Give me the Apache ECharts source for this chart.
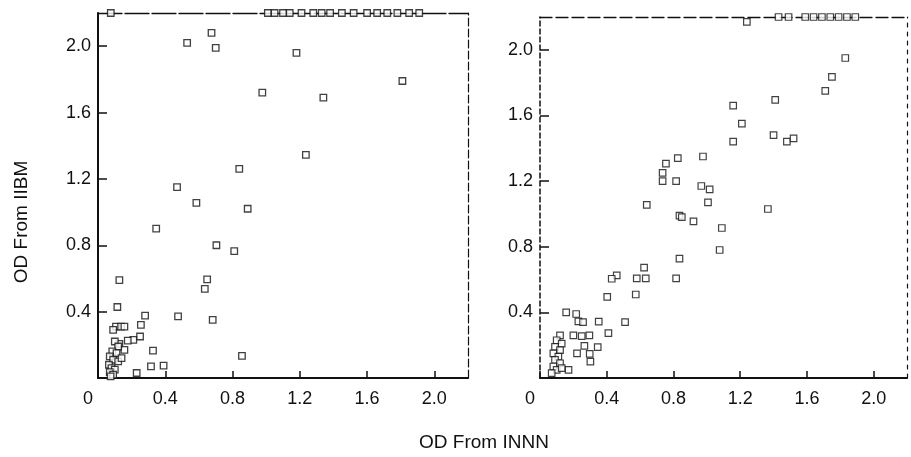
<!DOCTYPE html>
<html>
<head>
<meta charset="utf-8">
<script src="https://cdn.jsdelivr.net/npm/echarts@6/dist/echarts.min.js"></script>
<style>
html,body{margin:0;padding:0;background:#fff;}
#container{width:911px;height:457px;}
</style>
</head>
<body>
<div id="container"></div>
<script>
// values (points above 2.2 sit on the top frame)
var leftPoints = [
	[0.076,2.2],[1.01,2.2],[1.05,2.2],[1.10,2.2],[1.14,2.2],[1.21,2.2],[1.28,2.2],[1.33,2.2],
	[1.38,2.2],[1.45,2.2],[1.52,2.2],[1.60,2.2],[1.66,2.2],[1.72,2.2],[1.78,2.2],[1.85,2.2],[1.91,2.2],
	[0.53,2.02],[0.675,2.08],[0.70,1.99],[1.18,1.96],[1.81,1.79],[0.977,1.72],[1.34,1.69],
	[1.236,1.345],[0.84,1.26],[0.47,1.15],[0.585,1.055],[0.89,1.02],[0.346,0.90],[0.704,0.80],
	[0.81,0.765],[0.127,0.59],[0.649,0.594],[0.635,0.537],[0.115,0.428],[0.28,0.376],[0.476,0.372],
	[0.682,0.35],[0.255,0.32],[0.107,0.31],[0.137,0.31],[0.157,0.31],[0.09,0.29],[0.25,0.25],
	[0.21,0.23],[0.177,0.225],[0.127,0.206],[0.157,0.17],[0.327,0.165],[0.315,0.07],[0.39,0.075],
	[0.23,0.03],[0.856,0.133],
	[0.10,0.22],[0.12,0.19],[0.085,0.16],[0.11,0.15],[0.07,0.13],[0.09,0.11],[0.12,0.10],
	[0.065,0.08],[0.08,0.06],[0.10,0.05],[0.07,0.035],[0.09,0.02],[0.075,0.01],[0.14,0.12]
];
var rightPoints = [
	[1.24,2.17],[1.43,2.2],[1.49,2.2],[1.59,2.2],[1.64,2.2],[1.69,2.2],[1.74,2.2],[1.79,2.2],
	[1.84,2.2],[1.89,2.2],
	[1.83,1.95],[1.75,1.835],[1.71,1.75],[1.41,1.695],[1.158,1.66],[1.21,1.55],[1.158,1.44],
	[1.40,1.48],[1.48,1.44],[1.52,1.46],[0.977,1.35],[0.826,1.34],[0.755,1.307],[0.735,1.25],
	[0.735,1.20],[0.816,1.20],[0.967,1.17],[1.017,1.15],[0.64,1.055],[1.007,1.07],[1.366,1.03],
	[0.836,0.99],[0.85,0.98],[0.92,0.955],[1.09,0.914],[1.077,0.78],[0.836,0.728],[0.624,0.673],
	[0.46,0.626],[0.43,0.605],[0.58,0.607],[0.634,0.607],[0.816,0.607],[0.574,0.509],[0.403,0.495],
	[0.157,0.40],[0.217,0.39],[0.23,0.345],[0.258,0.34],[0.352,0.343],[0.51,0.34],[0.41,0.274],
	[0.20,0.26],[0.25,0.255],[0.296,0.26],[0.346,0.188],[0.266,0.196],[0.222,0.15],[0.298,0.147],
	[0.302,0.10],[0.171,0.05],
	[0.12,0.26],[0.10,0.23],[0.13,0.21],[0.09,0.19],[0.12,0.17],[0.08,0.15],[0.11,0.13],
	[0.09,0.11],[0.12,0.09],[0.08,0.07],[0.10,0.05],[0.07,0.03],[0.13,0.06]
];
var axisMin = 0, axisMax = 2.2, axisStep = 0.4;
var xTitle = 'OD From INNN';
var yTitle = 'OD From IIBM';

var font = '"Liberation Sans", Arial, sans-serif';
var ink = '#111';

function mainX(grid){
	return {
		gridIndex: grid, type: 'value', position: 'bottom',
		min: axisMin, max: axisMax, interval: axisStep,
		axisLine: { show: true, onZero: false, lineStyle: { color: ink, width: 2 } },
		axisTick: { show: true, inside: true, length: 7, lineStyle: { color: ink, width: 1.5 } },
		axisLabel: { showMaxLabel: false, margin: 12, color: ink, fontSize: 18, fontFamily: font,
			// the zero label sits a little left of the origin in the original
			formatter: function(v){ return v === 0 ? '{z|0}' : v.toFixed(1); },
			rich: { z: { fontSize: 18, fontFamily: font, color: ink, padding: [0, 20, 0, 0] } } },
		splitLine: { show: false }
	};
}
function mainY(grid, dashed){
	return {
		gridIndex: grid, type: 'value', position: 'left',
		min: axisMin, max: axisMax, interval: axisStep,
		axisLine: { show: true, onZero: false, lineStyle: { color: ink, width: dashed ? 1.5 : 2, type: dashed ? [5, 3] : 'solid' } },
		axisTick: { show: true, inside: true, length: 9, lineStyle: { color: ink, width: 1.5 } },
		axisLabel: { showMinLabel: false, showMaxLabel: false, margin: 7, color: ink, fontSize: 18, fontFamily: font,
			formatter: function(v){ return v.toFixed(1); } },
		splitLine: { show: false }
	};
}
function frameX(grid, dash){
	return {
		gridIndex: grid, type: 'value', position: 'top',
		min: axisMin, max: axisMax, interval: axisStep,
		axisLine: { show: true, onZero: false, lineStyle: { color: ink, width: 1.3, type: dash } },
		axisTick: { show: false }, axisLabel: { show: false }, splitLine: { show: false }
	};
}
function frameY(grid, dash){
	return {
		gridIndex: grid, type: 'value', position: 'right',
		min: axisMin, max: axisMax, interval: axisStep,
		axisLine: { show: true, onZero: false, lineStyle: { color: ink, width: 1.2, type: dash } },
		axisTick: { show: false }, axisLabel: { show: false }, splitLine: { show: false }
	};
}

var myChart = echarts.init(document.getElementById('container'));
var option = {
	backgroundColor: '#fff',
	animation: false,
	grid: [
		{ left: 98, right: 443, top: 13, bottom: 79, outerBoundsMode: 'none' },
		{ left: 540, right: 4, top: 17, bottom: 79, outerBoundsMode: 'none' }
	],
	xAxis: [mainX(0), frameX(0, [24, 3]), mainX(1), frameX(1, [12, 4])],
	yAxis: [mainY(0, false), frameY(0, [8, 3]), mainY(1, true), frameY(1, [4, 5])],
	series: [{
		type: 'scatter', xAxisIndex: 0, yAxisIndex: 0, z: 5,
		symbol: 'rect', symbolSize: 6.5,
		itemStyle: { color: '#fff', borderColor: ink, borderWidth: 1.3 },
		data: leftPoints
	}, {
		type: 'scatter', xAxisIndex: 2, yAxisIndex: 2, z: 5,
		symbol: 'rect', symbolSize: 6.5,
		itemStyle: { color: '#fff', borderColor: ink, borderWidth: 1.2 },
		data: rightPoints
	}],
	graphic: [{
		type: 'text', x: 484, y: 443,
		style: { text: xTitle, fill: ink, font: '19px ' + font, textAlign: 'center', textVerticalAlign: 'middle' }
	}, {
		type: 'text', x: 22, y: 222, rotation: Math.PI / 2,
		style: { text: yTitle, fill: ink, font: '19px ' + font, textAlign: 'center', textVerticalAlign: 'middle' }
	}]
};
myChart.setOption(option, true);
</script>
</body>
</html>
